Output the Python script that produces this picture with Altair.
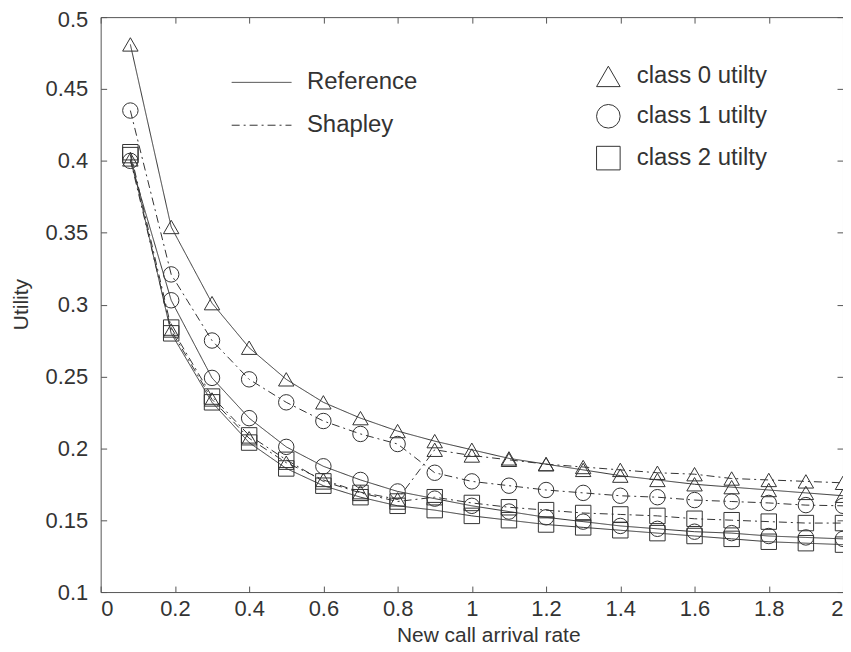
import altair as alt
import pandas as pd

# ---- data ----
x_vals = [0.08, 0.19, 0.3, 0.4, 0.5, 0.6, 0.7, 0.8, 0.9, 1.0,
          1.1, 1.2, 1.3, 1.4, 1.5, 1.6, 1.7, 1.8, 1.9, 2.0]

class0_reference = [0.481, 0.354, 0.301, 0.270, 0.248, 0.232, 0.221, 0.212, 0.205, 0.199,
                    0.193, 0.189, 0.185, 0.181, 0.178, 0.175, 0.173, 0.171, 0.169, 0.167]
class0_shapley = [0.401, 0.282, 0.234, 0.207, 0.190, 0.178, 0.1695, 0.1645, 0.199, 0.195,
                  0.192, 0.189, 0.187, 0.185, 0.183, 0.182, 0.179, 0.178, 0.177, 0.176]
class1_reference = [0.400, 0.303, 0.249, 0.221, 0.201, 0.1875, 0.178, 0.170, 0.165, 0.160,
                    0.156, 0.152, 0.149, 0.146, 0.144, 0.142, 0.141, 0.139, 0.138, 0.137]
class1_shapley = [0.435, 0.321, 0.275, 0.248, 0.232, 0.219, 0.210, 0.203, 0.183, 0.177,
                  0.174, 0.171, 0.169, 0.167, 0.166, 0.164, 0.163, 0.162, 0.1605, 0.160]
class2_reference = [0.404, 0.280, 0.232, 0.204, 0.186, 0.174, 0.166, 0.160, 0.157, 0.153,
                    0.150, 0.147, 0.145, 0.143, 0.141, 0.139, 0.137, 0.135, 0.134, 0.133]
class2_shapley = [0.406, 0.284, 0.236, 0.209, 0.192, 0.177, 0.169, 0.163, 0.166, 0.162,
                  0.159, 0.157, 0.155, 0.154, 0.153, 0.151, 0.150, 0.149, 0.148, 0.148]

methods = ["Reference", "Shapley"]
classes = ["class 0 utilty", "class 1 utilty", "class 2 utilty"]
x_ticks = [0, 0.2, 0.4, 0.6, 0.8, 1, 1.2, 1.4, 1.6, 1.8, 2]
y_ticks = [0.1, 0.15, 0.2, 0.25, 0.3, 0.35, 0.4, 0.45, 0.5]

series = [
    (classes[0], methods[0], class0_reference),
    (classes[0], methods[1], class0_shapley),
    (classes[1], methods[0], class1_reference),
    (classes[1], methods[1], class1_shapley),
    (classes[2], methods[0], class2_reference),
    (classes[2], methods[1], class2_shapley),
]
rows = []
for cls, method, vals in series:
    for xv, yv in zip(x_vals, vals):
        rows.append({"x": xv, "y": yv, "cls": cls, "method": method,
                     "series": cls + " " + method})
df = pd.DataFrame(rows)

FONT = "Liberation Sans"
INK = "#333333"

xscale = alt.Scale(domain=[0, 2], nice=False, zero=False)
yscale = alt.Scale(domain=[0.1, 0.5], nice=False, zero=False)

base = alt.Chart(df)

lines = base.mark_line(strokeWidth=1, color=INK, clip=True).encode(
    x=alt.X("x:Q", scale=xscale,
            axis=alt.Axis(orient="bottom", values=x_ticks, format="~g",
                          title="New call arrival rate", offset=-6, tickSize=6,
                          domain=False, grid=False, labelPadding=7,
                          titleX=389, titleY=56, titleAlign="center",
                          titleBaseline="alphabetic")),
    y=alt.Y("y:Q", scale=yscale,
            axis=alt.Axis(orient="left", values=y_ticks, format="~g",
                          title="Utility", offset=-6, tickSize=6,
                          domain=False, grid=False, labelPadding=13,
                          labelOffset={"condition": {"test": "datum.value >= 0.5", "value": 2},
                                       "value": 0},
                          titleX=-85, titleY=288, titleAngle=270,
                          titleAlign="center", titleBaseline="middle")),
    strokeDash=alt.StrokeDash(
        "method:N",
        scale=alt.Scale(domain=methods, range=[[1, 0], [8, 4, 2, 4]]),
        legend=alt.Legend(title=None, orient="none", legendX=131, legendY=35,
                          symbolType="stroke", symbolSize=3600,
                          symbolStrokeColor=INK, symbolStrokeWidth=1,
                          labelFontSize=24,
                          labelOffset=15, rowPadding=0, padding=0)),
    detail="series:N",
)

points = base.mark_point(filled=False, strokeWidth=1, color=INK, opacity=1,
                         size=240).encode(
    x=alt.X("x:Q", scale=xscale,
            axis=alt.Axis(orient="top", values=x_ticks, labels=False, title=None,
                          offset=-6, tickSize=6, domain=False, grid=False)),
    y=alt.Y("y:Q", scale=yscale,
            axis=alt.Axis(orient="right", values=y_ticks, labels=False, title=None,
                          offset=-6, tickSize=6, domain=False, grid=False)),
    shape=alt.Shape(
        "cls:N",
        scale=alt.Scale(domain=classes, range=["triangle-up", "circle", "square"]),
        legend=alt.Legend(title=None, orient="none", legendX=497, legendY=47,
                          symbolSize=560, symbolStrokeColor=INK,
                          symbolFillColor="transparent", symbolStrokeWidth=1,
                          labelFontSize=24,
                          labelOffset=16, rowPadding=13, padding=0)),
)

chart = alt.layer(lines, points).resolve_axis(
    x="independent", y="independent"
).properties(
    width=745, height=577,
    autosize=alt.AutoSizeParams(type="none"),
    padding={"left": 93, "top": 8, "right": 0, "bottom": 58},
    background="white",
).configure_view(
    stroke="#555555", strokeWidth=1
).configure_axis(
    labelFont=FONT, titleFont=FONT, labelFontSize=22, titleFontSize=21,
    labelColor=INK, titleColor=INK, tickColor="#555555", tickWidth=1,
    titleFontWeight="normal",
).configure_legend(
    labelFont=FONT, labelFontSize=24, labelColor=INK,
)

chart.save("out.html", embed_options={"renderer": "svg", "actions": False})
